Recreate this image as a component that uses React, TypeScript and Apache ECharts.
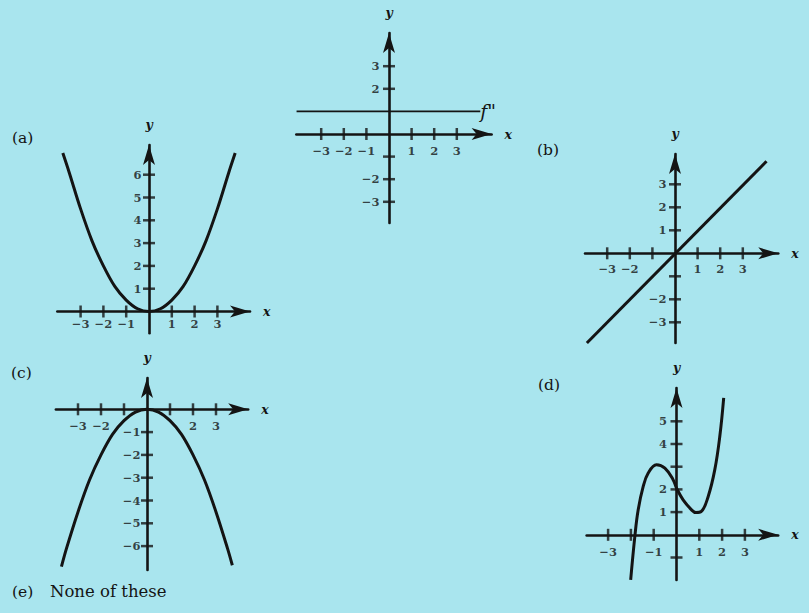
import React, { useEffect, useRef } from "react";
import * as echarts from "echarts";

// ---- curve samples (x, y) ----
// f'' : horizontal line y = 1
const fppX = [-4.09, 4.04];
const fppY = [1, 1];

// (a) upward parabola
const aX = [-3.78, -3.5, -3.0, -2.5, -2.0, -1.5, -1.0, -0.5, 0, 0.5, 1.0, 1.5, 2.0, 2.5, 3.0, 3.5, 3.78];
const aY = [6.95, 6.1, 4.5, 3.1, 2.0, 1.1, 0.5, 0.12, 0, 0.12, 0.5, 1.1, 2.0, 3.1, 4.5, 6.1, 6.95];

// (b) straight line through the origin
const bX = [-3.9, 4.05];
const bY = [-3.9, 4.0];

// (c) downward parabola
const cX = [-3.72, -3.5, -3.0, -2.5, -2.0, -1.5, -1.0, -0.5, 0, 0.5, 1.0, 1.5, 2.0, 2.5, 3.0, 3.5, 3.71];
const cY = [-6.9, -6.1, -4.5, -3.1, -2.0, -1.1, -0.5, -0.12, 0, -0.12, -0.5, -1.1, -2.0, -3.1, -4.5, -6.1, -6.84];

// (d) cubic with a local max and min
const dX = [-2.01, -1.82, -1.68, -1.46, -1.24, -0.88, -0.51, -0.15, 0, 0.29, 0.66, 0.85, 1.09, 1.39, 1.68, 1.9, 2.07];
const dY = [-1.99, 0, 1.1, 2.13, 2.72, 3.09, 2.94, 2.43, 2.06, 1.54, 1.1, 0.98, 1.03, 1.69, 2.87, 4.34, 6.03];

// ---- ticks and tick labels ----
const fppXTicks = [-3, -2, -1, 1, 2, 3];
const fppXLabels = [-3, -2, -1, 1, 2, 3];
const fppYTicks = [-3, -2, -1, 2, 3];
const fppYLabels = [-3, -2, 2, 3];

const aXTicks = [-3, -2, -1, 1, 2, 3];
const aXLabels = [-3, -2, -1, 1, 2, 3];
const aYTicks = [1, 2, 3, 4, 5, 6];
const aYLabels = [1, 2, 3, 4, 5, 6];

const bXTicks = [-3, -2, -1, 1, 2, 3];
const bXLabels = [-3, -2, 1, 2, 3];
const bYTicks = [-3, -2, -1, 1, 2, 3];
const bYLabels = [-3, -2, 1, 2, 3];

const cXTicks = [-3, -2, -1, 1, 2, 3];
const cXLabels = [-3, -2, 2, 3];
const cYTicks = [-1, -2, -3, -4, -5, -6];
const cYLabels = [-1, -2, -3, -4, -5, -6];

const dXTicks = [-3, -2, -1, 1, 2, 3];
const dXLabels = [-3, -1, 1, 2, 3];
const dYTicks = [-1, 1, 2, 3, 4, 5];
const dYLabels = [1, 2, 4, 5];

const INK = "#141414";
const BG = "#a9e5ee";
const SERIF = "DejaVu Serif";

type Panel = {
  ox: number; oy: number; ux: number; uy: number;
  xMin: number; xMax: number; yMin: number; yMax: number;
  xs: number[]; ys: number[]; curveWidth: number; smooth: number | boolean;
  xTicks: number[]; xLabels: number[]; yTicks: number[]; yLabels: number[];
  xGap: number; yGap: number; endLabel?: string;
};

const panels: Panel[] = [
  { ox: 389, oy: 134, ux: 22.6, uy: 22.6, xMin: -4.1, xMax: 4.54, yMin: -3.94, yMax: 4.47,
    xs: fppX, ys: fppY, curveWidth: 1.6, smooth: false,
    xTicks: fppXTicks, xLabels: fppXLabels, yTicks: fppYTicks, yLabels: fppYLabels,
    xGap: 10, yGap: 9, endLabel: 'f"' },
  { ox: 149, oy: 311.5, ux: 22.8, uy: 22.8, xMin: -4.02, xMax: 4.43, yMin: -0.95, yMax: 7.3,
    xs: aX, ys: aY, curveWidth: 3, smooth: 0.35,
    xTicks: aXTicks, xLabels: aXLabels, yTicks: aYTicks, yLabels: aYLabels,
    xGap: 6, yGap: 7 },
  { ox: 675, oy: 253.3, ux: 22.6, uy: 23, xMin: -3.98, xMax: 4.57, yMin: -3.9, yMax: 4.32,
    xs: bX, ys: bY, curveWidth: 3, smooth: false,
    xTicks: bXTicks, xLabels: bXLabels, yTicks: bYTicks, yLabels: bYLabels,
    xGap: 9, yGap: 8 },
  { ox: 147, oy: 409.3, ux: 23, uy: 22.8, xMin: -3.96, xMax: 4.4, yMin: -7.05, yMax: 1.37,
    xs: cX, ys: cY, curveWidth: 3, smooth: 0.35,
    xTicks: cXTicks, xLabels: cXLabels, yTicks: cYTicks, yLabels: cYLabels,
    xGap: 10, yGap: 6 },
  { ox: 676.5, oy: 534.8, ux: 22.8, uy: 22.7, xMin: -3.94, xMax: 4.46, yMin: -1.99, yMax: 6.47,
    xs: dX, ys: dY, curveWidth: 3, smooth: 0.4,
    xTicks: dXTicks, xLabels: dXLabels, yTicks: dYTicks, yLabels: dYLabels,
    xGap: 11, yGap: 9 },
];

const fmt = (v: number) => (v < 0 ? "\u2212" + Math.abs(v) : String(v));

function buildOption() {
  const grid: any[] = [];
  const xAxis: any[] = [];
  const yAxis: any[] = [];
  const series: any[] = [];
  const labelStyle = { color: INK, fontFamily: SERIF, fontSize: 11.5, fontWeight: "bold" as const };
  const nameStyle = { color: INK, fontFamily: SERIF, fontSize: 12.5, fontStyle: "italic", fontWeight: "bold" };
  const hidden = "rgba(0,0,0,0)";

  panels.forEach((p, i) => {
    grid.push({
      left: p.ox + p.xMin * p.ux,
      top: p.oy - p.yMax * p.uy,
      width: (p.xMax - p.xMin) * p.ux,
      height: (p.yMax - p.yMin) * p.uy,
      containLabel: false,
    });
    const axisLine = {
      onZero: true,
      symbol: ["none", "arrow"],
      symbolSize: [9, 20],
      lineStyle: { color: INK, width: 2.6 },
    };
    xAxis.push({
      gridIndex: i, type: "value", min: p.xMin, max: p.xMax,
      axisLine, axisTick: { show: false }, splitLine: { show: false },
      axisLabel: { show: false },
      name: "x", nameLocation: "end", nameGap: 13, nameTextStyle: nameStyle,
    });
    yAxis.push({
      gridIndex: i, type: "value", min: p.yMin, max: p.yMax,
      axisLine, axisTick: { show: false }, splitLine: { show: false },
      axisLabel: { show: false },
      name: "y", nameLocation: "end", nameGap: 14, nameTextStyle: nameStyle,
    });
    series.push({
      type: "line", xAxisIndex: i, yAxisIndex: i,
      data: p.xs.map((x, k) => [x, p.ys[k]]),
      smooth: p.smooth, showSymbol: false, symbol: "none", silent: true,
      lineStyle: { color: INK, width: p.curveWidth },
      endLabel: p.endLabel
        ? { show: true, formatter: p.endLabel, color: INK, fontFamily: SERIF, fontSize: 19,
            fontStyle: "italic", distance: 0 }
        : { show: false },
      z: 3,
    });
    // tick marks crossing the axes
    series.push({
      type: "scatter", xAxisIndex: i, yAxisIndex: i, silent: true,
      data: p.xTicks.map((v) => [v, 0]),
      symbol: "rect", symbolSize: [2.5, 12],
      itemStyle: { color: INK }, z: 4,
    });
    series.push({
      type: "scatter", xAxisIndex: i, yAxisIndex: i, silent: true,
      data: p.yTicks.map((v) => [0, v]),
      symbol: "rect", symbolSize: [12, 2.5],
      itemStyle: { color: INK }, z: 4,
    });
    // tick labels, placed next to the axis lines through the origin
    series.push({
      type: "scatter", xAxisIndex: i, yAxisIndex: i, silent: true,
      data: p.xLabels.map((v) => [v, 0]),
      symbol: "circle", symbolSize: 1, itemStyle: { color: hidden },
      label: {
        show: true, position: "bottom", distance: p.xGap, ...labelStyle,
        formatter: (d: any) => fmt(d.value[0]),
      },
      z: 5,
    });
    series.push({
      type: "scatter", xAxisIndex: i, yAxisIndex: i, silent: true,
      data: p.yLabels.map((v) => [0, v]),
      symbol: "circle", symbolSize: 1, itemStyle: { color: hidden },
      label: {
        show: true, position: "left", distance: p.yGap, ...labelStyle,
        formatter: (d: any) => fmt(d.value[1]),
      },
      z: 5,
    });
  });

  const tag = (text: string, x: number, y: number, size = 15.5) => ({
    type: "text", left: x, top: y,
    style: { text, fill: INK, font: `${size}px "${SERIF}"` },
  });

  return {
    animation: false,
    backgroundColor: BG,
    grid, xAxis, yAxis, series,
    graphic: [
      tag("(a)", 12, 130),
      tag("(b)", 537, 142),
      tag("(c)", 11, 365),
      tag("(d)", 538, 377),
      tag("(e)", 12, 584),
      tag("None of these", 50, 583, 16.5),
    ],
  };
}

export default function App() {
  const ref = useRef<HTMLDivElement>(null);
  useEffect(() => {
    if (!ref.current) return;
    const chart = echarts.init(ref.current, undefined, { renderer: "svg" });
    chart.setOption(buildOption() as any);
    return () => chart.dispose();
  }, []);
  return (
    <div
      ref={ref}
      style={{ position: "fixed", left: 0, top: 0, width: 809, height: 613, background: BG }}
    />
  );
}
